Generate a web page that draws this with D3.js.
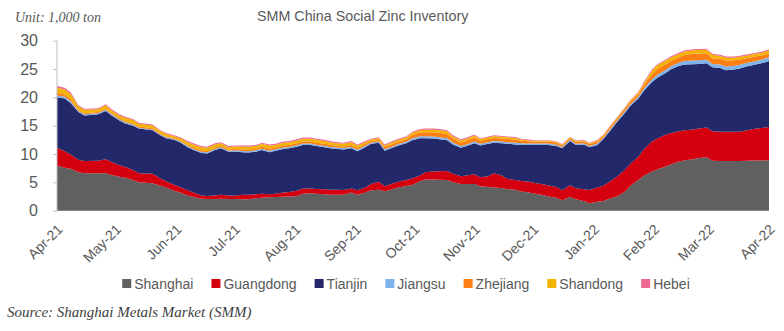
<!DOCTYPE html>
<html><head><meta charset="utf-8">
<script src="https://cdn.jsdelivr.net/npm/d3@7"></script>
<style>
html,body{margin:0;padding:0;background:#fff;}
svg{display:block;}
</style></head>
<body><svg id="chart" width="784" height="331"></svg>
<script>
const dates = ["2021-04-01","2021-04-05","2021-04-08","2021-04-12","2021-04-15","2021-04-22","2021-04-26","2021-04-29","2021-05-03","2021-05-06",
"2021-05-10","2021-05-13","2021-05-20","2021-05-24","2021-05-27","2021-05-31","2021-06-03","2021-06-07","2021-06-10","2021-06-14",
"2021-06-17","2021-06-21","2021-06-24","2021-06-28","2021-07-01","2021-07-05","2021-07-08","2021-07-12","2021-07-15","2021-07-19",
"2021-07-22","2021-07-26","2021-07-29","2021-08-02","2021-08-05","2021-08-09","2021-08-12","2021-08-16","2021-08-19","2021-08-23",
"2021-08-26","2021-08-30","2021-09-02","2021-09-06","2021-09-09","2021-09-13","2021-09-16","2021-09-20","2021-09-23","2021-09-27",
"2021-09-30","2021-10-04","2021-10-07","2021-10-11","2021-10-14","2021-10-18","2021-10-21","2021-10-25","2021-10-28","2021-11-01",
"2021-11-04","2021-11-08","2021-11-11","2021-11-15","2021-11-18","2021-11-22","2021-11-25","2021-11-29","2021-12-02","2021-12-06",
"2021-12-09","2021-12-13","2021-12-16","2021-12-20","2021-12-23","2021-12-27","2021-12-30","2022-01-03","2022-01-06","2022-01-10",
"2022-01-13","2022-01-17","2022-01-20","2022-01-24","2022-01-27","2022-01-31","2022-02-03","2022-02-07","2022-02-10","2022-02-14",
"2022-02-17","2022-02-21","2022-02-24","2022-02-28","2022-03-03","2022-03-07","2022-03-10","2022-03-14","2022-03-17","2022-03-21",
"2022-03-24","2022-03-28","2022-04-01"];

const shanghai = [7.95,7.6,7.4,6.8,6.6,6.6,6.6,6.3,6.0,5.8,
5.4,5.0,4.85,4.4,4.1,3.5,3.2,2.7,2.4,2.1,
2.06,2.06,2.1,2.06,2.06,2.0,2.0,2.2,2.3,2.36,
2.4,2.45,2.5,2.6,3.0,3.1,3.0,2.9,2.8,2.8,
2.8,3.2,2.8,3.2,3.6,3.7,3.45,3.8,4.1,4.35,
4.55,5.2,5.5,5.5,5.45,5.4,5.0,4.7,4.7,4.7,
4.3,4.2,4.1,4.0,3.8,3.7,3.4,3.2,3.0,2.75,
2.5,2.3,1.85,2.4,2.0,1.7,1.3,1.6,1.7,2.2,
2.5,3.3,4.4,5.4,6.2,6.9,7.3,7.8,8.2,8.7,
8.9,9.1,9.3,9.45,8.8,8.75,8.75,8.75,8.75,8.8,
8.85,8.85,8.9];

const guangdong = [3.15,2.9,2.5,2.2,2.15,2.2,2.5,2.3,2.0,1.9,
1.8,1.6,1.65,1.3,1.1,1.1,1.0,0.9,0.8,0.6,
0.54,0.64,0.7,0.64,0.6,0.8,0.8,0.7,0.7,0.54,
0.6,0.75,0.8,0.9,0.9,0.8,0.85,0.9,0.9,0.9,
0.85,0.7,0.8,0.9,1.1,1.4,0.85,1.0,1.0,1.05,
1.15,1.0,1.3,1.4,1.5,1.6,1.5,1.4,1.5,1.75,
1.6,1.9,2.5,2.2,1.8,1.7,1.85,1.9,1.9,1.9,
1.95,1.9,1.75,2.1,1.95,2.1,2.35,2.5,2.7,3.1,
3.5,3.9,3.9,4.1,4.7,5.3,5.5,5.6,5.5,5.3,
5.3,5.25,5.2,5.25,5.2,5.2,5.2,5.2,5.2,5.4,
5.55,5.75,5.85];

const tianjin = [8.9,9.3,9.1,8.4,8.05,8.2,8.5,8.2,7.9,7.7,
7.8,7.9,7.7,7.6,7.6,7.9,7.9,7.6,7.5,7.5,
7.5,8.0,8.2,7.7,7.8,7.5,7.45,7.5,7.7,7.4,
7.6,7.7,7.7,7.8,7.7,7.7,7.55,7.4,7.3,7.2,
7.15,7.1,6.9,7.1,7.1,6.9,6.3,6.3,6.4,6.5,
6.75,6.6,6.0,5.85,5.65,5.45,5.2,5.0,5.2,5.45,
5.6,5.7,5.4,5.7,6.2,6.3,6.35,6.5,6.7,6.95,
7.15,7.2,7.4,7.8,7.65,7.9,7.55,7.5,8.2,9.0,
9.6,10.0,10.2,10.3,10.3,10.5,10.7,10.9,11.3,11.6,
11.6,11.5,11.4,11.3,11.3,11.25,10.85,10.95,11.15,11.3,
11.3,11.4,11.65];

const jiangsu = [0.35,0.3,0.3,0.2,0.2,0.2,0.2,0.2,0.2,0.2,
0.2,0.15,0.15,0.15,0.15,0.15,0.15,0.2,0.2,0.2,
0.2,0.2,0.2,0.2,0.2,0.25,0.25,0.25,0.25,0.3,
0.25,0.25,0.25,0.25,0.25,0.25,0.25,0.25,0.25,0.25,
0.25,0.25,0.25,0.25,0.2,0.2,0.25,0.25,0.25,0.25,
0.3,0.35,0.35,0.35,0.35,0.35,0.35,0.3,0.3,0.3,
0.3,0.3,0.3,0.3,0.3,0.3,0.3,0.25,0.25,0.25,
0.25,0.25,0.2,0.2,0.2,0.2,0.2,0.25,0.2,0.25,
0.25,0.3,0.3,0.3,0.4,0.5,0.55,0.55,0.55,0.55,
0.6,0.65,0.65,0.65,0.6,0.6,0.65,0.65,0.65,0.6,
0.6,0.65,0.7];

const zhejiang = [0.45,0.4,0.4,0.2,0.2,0.2,0.2,0.2,0.2,0.2,
0.2,0.2,0.2,0.15,0.15,0.15,0.15,0.2,0.25,0.25,
0.25,0.25,0.25,0.2,0.25,0.3,0.3,0.3,0.35,0.35,
0.3,0.35,0.35,0.35,0.35,0.35,0.35,0.35,0.35,0.3,
0.3,0.35,0.3,0.3,0.25,0.3,0.35,0.4,0.4,0.4,
0.55,0.65,0.7,0.75,0.8,0.75,0.7,0.65,0.65,0.7,
0.55,0.55,0.55,0.55,0.55,0.55,0.45,0.4,0.35,0.35,
0.35,0.35,0.3,0.3,0.35,0.35,0.35,0.35,0.35,0.35,
0.35,0.4,0.45,0.5,0.65,0.9,1.0,1.0,0.95,0.95,
1.1,1.2,1.2,1.15,1.0,1.0,1.05,1.0,0.95,0.85,
0.85,0.75,0.65];

const shandong = [0.9,0.9,0.9,0.6,0.6,0.5,0.6,0.5,0.5,0.6,
0.6,0.5,0.5,0.45,0.45,0.35,0.45,0.5,0.55,0.55,
0.55,0.55,0.45,0.4,0.4,0.45,0.5,0.45,0.5,0.55,
0.45,0.5,0.5,0.5,0.5,0.5,0.5,0.5,0.5,0.45,
0.45,0.5,0.45,0.35,0.3,0.3,0.3,0.35,0.35,0.35,
0.4,0.4,0.45,0.45,0.45,0.45,0.35,0.35,0.35,0.35,
0.3,0.3,0.3,0.3,0.3,0.3,0.2,0.15,0.15,0.15,
0.15,0.15,0.15,0.15,0.15,0.15,0.15,0.2,0.15,0.2,
0.2,0.2,0.25,0.25,0.35,0.6,0.65,0.65,0.6,0.6,
0.6,0.6,0.6,0.6,0.6,0.5,0.5,0.45,0.45,0.45,
0.45,0.45,0.5];

const hebei = [0.3,0.3,0.3,0.2,0.2,0.2,0.2,0.2,0.2,0.2,
0.2,0.15,0.15,0.15,0.15,0.15,0.15,0.2,0.2,0.2,
0.2,0.2,0.2,0.2,0.2,0.2,0.2,0.2,0.2,0.2,
0.2,0.2,0.2,0.2,0.2,0.2,0.2,0.2,0.2,0.2,
0.2,0.2,0.2,0.2,0.15,0.15,0.2,0.2,0.2,0.2,
0.2,0.2,0.2,0.2,0.2,0.2,0.2,0.2,0.2,0.2,
0.15,0.15,0.15,0.15,0.15,0.15,0.15,0.15,0.1,0.1,
0.1,0.1,0.1,0.1,0.1,0.1,0.1,0.1,0.1,0.1,
0.1,0.1,0.1,0.15,0.2,0.2,0.2,0.2,0.2,0.2,
0.2,0.2,0.2,0.2,0.2,0.2,0.2,0.2,0.2,0.2,
0.2,0.2,0.2];

const seriesNames = ["Shanghai","Guangdong","Tianjin","Jiangsu","Zhejiang","Shandong","Hebei"];
const seriesColors = ["#606060","#d5000f","#23286b","#7eb3ec","#fb7f14","#f3b400","#ee6a90"];
const yTicks = [0,5,10,15,20,25,30];
const xTickMonths = ["2021-04-01","2021-05-01","2021-06-01","2021-07-01","2021-08-01","2021-09-01","2021-10-01","2021-11-01","2021-12-01","2022-01-01","2022-02-01","2022-03-01","2022-04-01"];

(function(){
const parse = d3.timeParse("%Y-%m-%d");
const seriesArrays = [shanghai,guangdong,tianjin,jiangsu,zhejiang,shandong,hebei];
const table = dates.map((d,i)=>{
  const row = {date: parse(d)};
  seriesNames.forEach((n,k)=>{ row[n] = seriesArrays[k][i]; });
  return row;
});

const svg = d3.select("#chart");
const pL = 57, pR = 769, pT = 40.7, pB = 210.7;
const x = d3.scaleTime().domain([parse(xTickMonths[0]), parse(xTickMonths[xTickMonths.length-1])]).range([pL,pR]);
const y = d3.scaleLinear().domain([0,30]).range([pB,pT]);

const layers = d3.stack().keys(seriesNames)(table);
const area = d3.area().x(d=>x(d.data.date)).y0(d=>y(d[0])).y1(d=>y(d[1])).curve(d3.curveLinear);

svg.append("g").selectAll("path").data(layers).join("path")
  .attr("d", area)
  .attr("fill", (d,i)=>seriesColors[i]);

// y axis
const yAxis = d3.axisLeft(y).tickValues(yTicks).tickSize(4).tickPadding(15).tickFormat(d3.format("d"));
const gy = svg.append("g").attr("transform",`translate(${pL},0)`).call(yAxis);
gy.select(".domain").attr("stroke","#bfbfbf").attr("d",`M0,${pT}V${pB}`);
gy.selectAll(".tick line").attr("stroke","#bfbfbf");
gy.selectAll(".tick text").attr("fill","#595959").style("font-family","'Liberation Sans',Arial,sans-serif").style("font-size","16px");

// x axis labels
const fmt = d3.timeFormat("%b-%y");
svg.append("g").selectAll("text").data(xTickMonths.map(parse)).join("text")
  .attr("transform", d=>`translate(${x(d)+3},${pB+16}) rotate(-45)`)
  .attr("text-anchor","end")
  .attr("dy","0.35em")
  .attr("fill","#595959")
  .style("font-family","'Liberation Sans',Arial,sans-serif")
  .style("font-size","14px")
  .text(d=>fmt(d));

// title and notes
svg.append("text").attr("x",257).attr("y",21).attr("fill","#595959")
  .style("font-family","'Liberation Sans',Arial,sans-serif").style("font-size","14.3px")
  .text("SMM China Social Zinc Inventory");
svg.append("text").attr("x",15).attr("y",22).attr("fill","#595959")
  .style("font-family","'Liberation Serif',serif").style("font-style","italic").style("font-size","14px")
  .text("Unit: 1,000 ton");
svg.append("text").attr("x",7).attr("y",317).attr("fill","#404040")
  .style("font-family","'Liberation Serif',serif").style("font-style","italic").style("font-size","15px")
  .text("Source: Shanghai Metals Market (SMM)");

// legend
const items = svg.append("g").selectAll("g").data(seriesNames).join("g");
items.append("rect").attr("width",9).attr("height",9).attr("y",-5).attr("fill",(d,i)=>seriesColors[i]);
items.append("text").attr("x",12).attr("dy","0.35em").attr("fill","#595959")
  .style("font-family","'Liberation Sans',Arial,sans-serif").style("font-size","14px").text(d=>d);
let cx = 0; const pos = [];
items.each(function(){ const w = this.querySelector("text").getComputedTextLength(); pos.push(cx); cx += 12 + w + 18; });
const startX = 406 - (cx - 18)/2;
items.attr("transform",(d,i)=>`translate(${startX+pos[i]},284)`);
})();
</script></body></html>
